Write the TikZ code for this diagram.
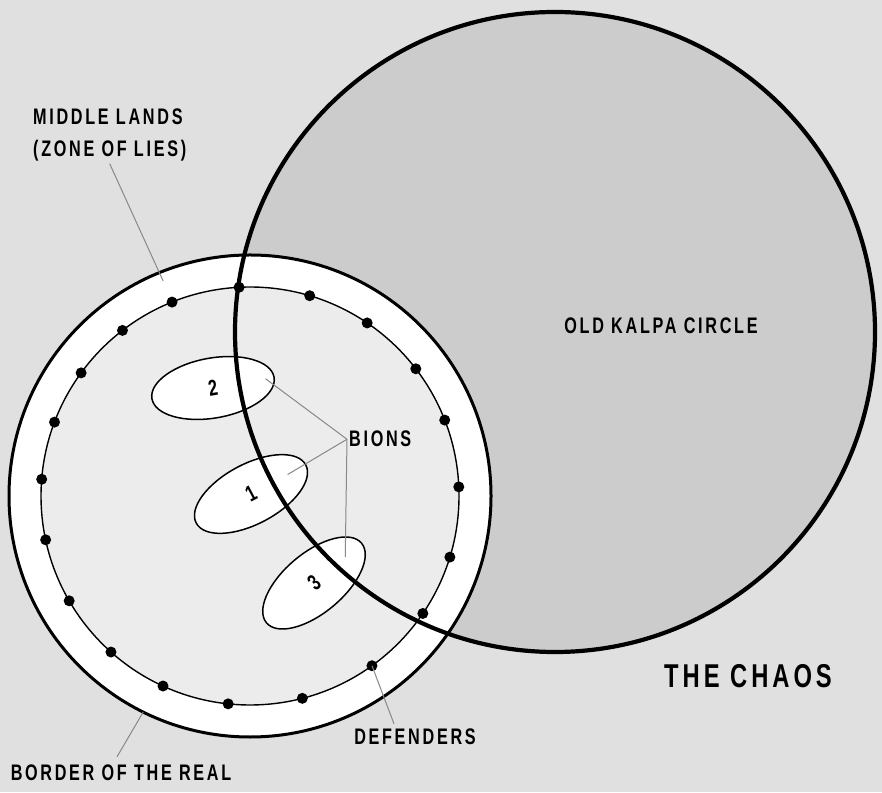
\documentclass[tikz,border=0pt]{standalone}
\usepackage{fontspec}
\newfontfamily\labelfont[FakeStretch=0.72,LetterSpace=12]{Liberation Sans Bold}
\usetikzlibrary{shapes.geometric,calc}
\definecolor{chaosgray}{HTML}{E0E0E0}
\definecolor{kalpagray}{HTML}{CCCCCC}
\definecolor{realgray}{HTML}{ECECEC}
\definecolor{leadgray}{HTML}{888888}

\begin{document}
\begin{tikzpicture}[
  x=1pt, y=1pt,
  lbl/.style={font=\labelfont\fontsize{22.5}{26}\selectfont, inner sep=2pt},
  bion/.style={ellipse, draw=black, line width=1.5pt, fill=white, inner sep=0pt,
               minimum width=124pt, minimum height=60pt,
               font=\labelfont\fontsize{22.5}{26}\selectfont},
  lead/.style={draw=leadgray, line width=1pt},
  defender/.style={fill=black}
]

% ---- the chaos (background)
\fill[chaosgray] (0,0) rectangle (882,792);
\useasboundingbox (0,0) rectangle (882,792);

\coordinate (kalpac) at (555,460);
\coordinate (realc) at (250,296);

% ---- old kalpa circle, filled first, outline drawn later on top
\fill[kalpagray] (kalpac) circle[radius=320];

% ---- the real: middle lands band and inner circle
\filldraw[fill=white, draw=black, line width=3pt] (realc) circle[radius=241];
\filldraw[fill=realgray, draw=black, line width=1.4pt] (realc) circle[radius=209];

% ---- bions
\node[bion, rotate=10] (b2) at (213,404) {2};
\node[bion, rotate=28] (b1) at (251,298) {1};
\node[bion, rotate=40] (b3) at (314,209) {3};

% ---- outline of the old kalpa circle
\draw[line width=4.2pt] (kalpac) circle[radius=320];

% ---- defenders on the inner circle
\foreach \a [count=\i] in {93,73.4,55.9,37.5,21.3,2.5,-17,-34.2,-54.3,-75.5,
                           -96,-114.6,-131.7,-149.9,-167.9,175.4,159.3,143.9,127.6,111.9}
{
  \path (realc) ++(\a:209) coordinate (d\i);
  \fill[defender] (d\i) circle[radius=5.5];
}

% ---- labels
\node[lbl, font=\labelfont\fontsize{22.5}{32}\selectfont, align=left, anchor=north west]
  (mid) at (31,685) {MIDDLE LANDS\\(ZONE OF LIES)};
\node[lbl, anchor=base west] (bions) at (347,345) {BIONS};
\node[lbl] (kalpa) at (661,466) {OLD KALPA CIRCLE};
\node[lbl, font=\labelfont\fontsize{33}{38}\selectfont] (chaos) at (748,116) {THE CHAOS};
\node[lbl] (def) at (415,55) {DEFENDERS};
\node[lbl] (bord) at (121,19) {BORDER OF THE REAL};

% ---- leader lines
\draw[lead] (mid.south) -- ($(realc)+(112:232)$);
\draw[lead] ($(b2.center)!0.85!(b2.east)$) -- (bions.west);
\draw[lead] ($(b1.center)!0.66!(b1.east)$) -- (bions.west);
\draw[lead] ($(b3.center)!0.65!(b3.east)$) -- (bions.west);
\draw[lead] (d9) -- ($(def.north)+(-21,3)$);
\draw[lead] ($(realc)+(-116.3:241)$) -- ($(bord.north)+(-4,6)$);
\end{tikzpicture}
\end{document}
